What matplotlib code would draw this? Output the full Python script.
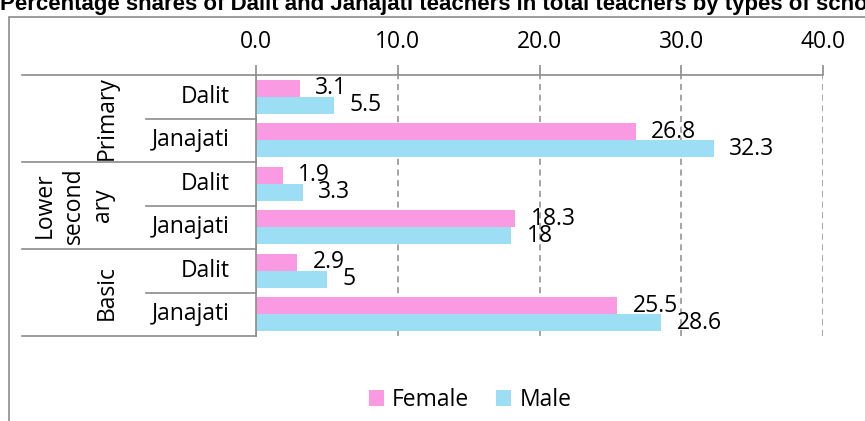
import matplotlib
matplotlib.use("Agg")
import matplotlib.pyplot as plt
from matplotlib.patches import Rectangle

plt.rcParams['font.family'] = ['Open Sans', 'DejaVu Sans']

title = "Percentage shares of Dalit and Janajati teachers in total teachers by types of school"
groups = ["Primary", "Lower\nsecond\nary", "Basic"]
castes = ["Dalit", "Janajati", "Dalit", "Janajati", "Dalit", "Janajati"]
female = [3.1, 26.8, 1.9, 18.3, 2.9, 25.5]
male = [5.5, 32.3, 3.3, 18.0, 5.0, 28.6]
xticks = [0, 10, 20, 30, 40]

pink = '#F99AE2'
blue = '#9CDFF5'
gray = '#8C8C8C'
fs = 16.5

fig = plt.figure(figsize=(8.65, 4.21), dpi=100)
W, H = 865, 421

# chart frame, cut off on the right like the original
fig.patches.append(Rectangle((9 / W, -0.1), 1.0, 1 - 17 / H + 0.1, transform=fig.transFigure,
                             fill=False, edgecolor=gray, lw=1.2))
fig.text(0.0, 1 - 10 / H, title, fontsize=16, fontweight='bold',
         family='Liberation Sans', va='baseline', ha='left')

ax = fig.add_axes([256 / W, 1 - 336 / H, 567 / W, 261 / H])

rows = list(range(len(castes)))
bh = 0.39
ax.barh([r - bh / 2 for r in rows], female, height=bh, color=pink, label='Female')
ax.barh([r + bh / 2 for r in rows], male, height=bh, color=blue, label='Male')

for r, v in zip(rows, female):
    ax.annotate(f"{v:g}", (v, r - bh / 2), xytext=(11, 0), textcoords='offset points',
                ha='left', va='center', fontsize=fs)
for r, v in zip(rows, male):
    ax.annotate(f"{v:g}", (v, r + bh / 2), xytext=(11, 0), textcoords='offset points',
                ha='left', va='center', fontsize=fs)

ax.set_xlim(0, 40)
ax.set_ylim(len(castes) - 0.5, -0.5)
ax.xaxis.tick_top()
ax.set_xticks(xticks)
ax.set_xticklabels([f"{t:.1f}" for t in xticks], fontsize=fs)
ax.tick_params(axis='x', direction='out', length=7, color=gray, width=1.2, pad=8)
ax.set_yticks([])
ax.xaxis.grid(True, linestyle=(0, (4, 3)), color=gray, lw=1.1)
ax.set_axisbelow(True)
for s in ['right', 'bottom']:
    ax.spines[s].set_visible(False)
for s in ['top', 'left']:
    ax.spines[s].set_color(gray)
    ax.spines[s].set_linewidth(1.2)

# two-level category axis drawn by hand
trans = ax.get_yaxis_transform()
x_sub = (146 - 256) / 567
x_grp = (22 - 256) / 567
for r, name in zip(rows, castes):
    ax.text((230 - 256) / 567, r, name, transform=trans, ha='right', va='center', fontsize=fs)
for k in range(len(groups)):
    ax.plot([x_sub, 0], [2 * k + 0.5] * 2, transform=trans, color=gray, lw=1.2, clip_on=False)
for k in range(len(groups) + 1):
    ax.plot([x_grp, 0], [2 * k - 0.5] * 2, transform=trans, color=gray, lw=1.2, clip_on=False)
for k, g in enumerate(groups):
    gx = (107 - 256) / 567 if "\n" not in g else (74 - 256) / 567
    ax.text(gx, 2 * k + 0.5, g, transform=trans, rotation=90, ha='center', va='center',
            multialignment='center', fontsize=fs, linespacing=1.3)

fig.legend(loc='center', bbox_to_anchor=(470 / W, 1 - 400 / H), ncol=2, frameon=False,
           fontsize=fs, handlelength=0.65, handleheight=0.65, columnspacing=1.2, handletextpad=0.35)

fig.savefig("out.png", dpi=100)
